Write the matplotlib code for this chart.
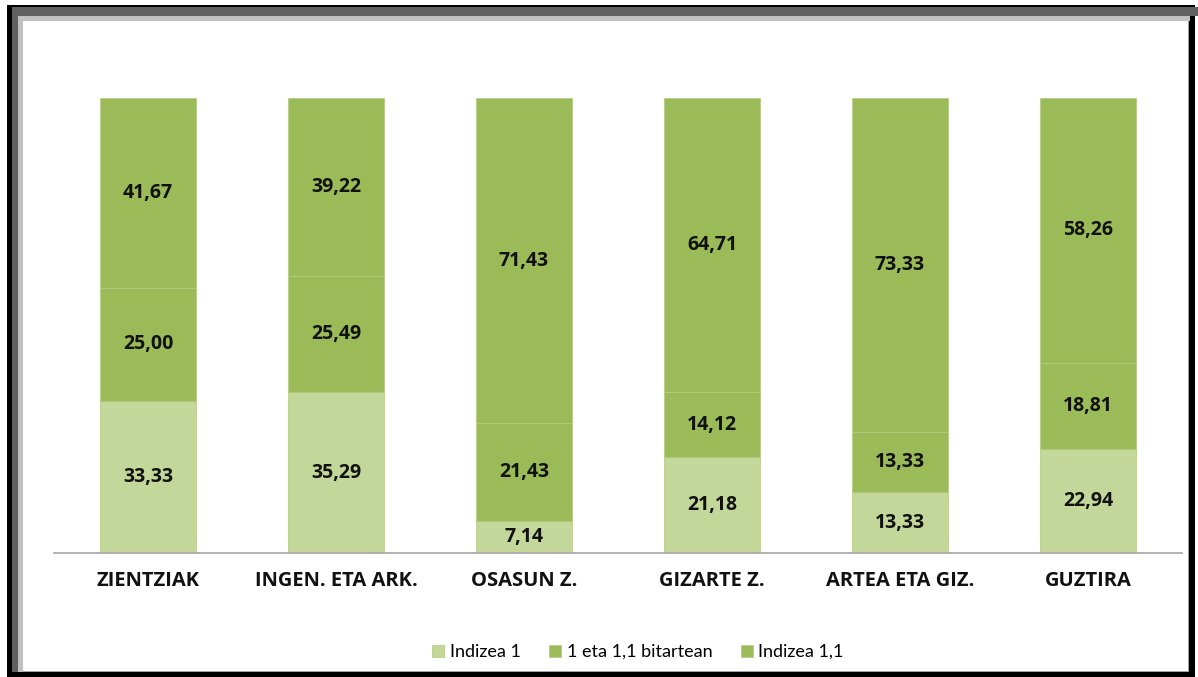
import matplotlib.pyplot as plt
from matplotlib.patches import Rectangle
import numpy as np

categories = ["ZIENTZIAK", "INGEN. ETA ARK.", "OSASUN Z.", "GIZARTE Z.", "ARTEA ETA GIZ.", "GUZTIRA"]
series_names = ["Indizea 1", "1 eta 1,1 bitartean", "Indizea 1,1"]
indizea_1 = [33.33, 35.29, 7.14, 21.18, 13.33, 22.94]
bitartean = [25.00, 25.49, 21.43, 14.12, 13.33, 18.81]
indizea_11 = [41.67, 39.22, 71.43, 64.71, 73.33, 58.26]

colors = ["#c4d79b", "#9bbb59", "#9bbb59"]

W, H = 1198, 677
fig = plt.figure(figsize=(W / 100, H / 100), dpi=100)


def px_rect(x0, y0, x1, y1, color):
    # pixel box (top-left origin) -> figure fraction
    fig.patches.append(Rectangle((x0 / W, 1 - y1 / H), (x1 - x0) / W, (y1 - y0) / H,
                                 transform=fig.transFigure, color=color, lw=0, zorder=-10))


# picture frame around the chart
px_rect(7, 5, 1195, 677, "black")
px_rect(12, 7, 1198, 16, "#606060")
px_rect(12, 7, 18, 672, "#606060")
px_rect(18, 16, 1190, 21, "#c0c0c0")
px_rect(18, 16, 23, 672, "#c0c0c0")
px_rect(23, 21, 1189, 672, "#a0a0a0")
px_rect(23, 21, 1188, 671, "white")

ax = fig.add_axes([54 / W, 1 - 553 / H, 1128 / W, 455 / H])
ax.set_facecolor("none")

x = np.arange(len(categories))
series = [indizea_1, bitartean, indizea_11]
bottom = np.zeros(len(categories))
for vals, name, col in zip(series, series_names, colors):
    vals = np.array(vals)
    ax.bar(x, vals, width=0.51, bottom=bottom, color=col, label=name,
           edgecolor="#b2ca7e", linewidth=0.5)
    for xi, b, v in zip(x, bottom, vals):
        ax.text(xi, b + v / 2, f"{v:.2f}".replace(".", ","), ha="center", va="center",
                fontsize=14, fontweight="bold", family="Open Sans", color="#111111")
    bottom += vals

ax.set_xlim(-0.5, len(categories) - 0.5)
ax.set_ylim(0, 100)
ax.set_yticks([])
ax.set_xticks(x)
ax.set_xticklabels(categories, fontsize=14.5, fontweight="bold", family="Open Sans", color="#111111")
ax.tick_params(axis="x", length=0, pad=13)
for s in ["top", "left", "right"]:
    ax.spines[s].set_visible(False)
ax.spines["bottom"].set_color("#a6a6a6")
ax.spines["bottom"].set_linewidth(1.2)

fig.legend(loc="center", bbox_to_anchor=(638 / W, 1 - 652 / H), ncol=3, frameon=False,
           prop={"family": "Lato", "size": 13}, handlelength=0.65, handleheight=0.65,
           handletextpad=0.3, columnspacing=1.6)

fig.savefig("out.png", dpi=100)
